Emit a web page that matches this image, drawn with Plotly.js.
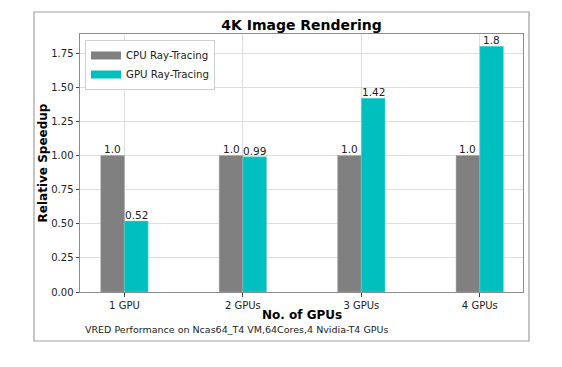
<!DOCTYPE html>
<html>
<head>
<meta charset="utf-8">
<script src="https://cdn.plot.ly/plotly-3.0.1.min.js"></script>
<style>html,body{margin:0;padding:0;background:#fff;}#chart{width:562px;height:367px;}</style>
</head>
<body>
<div id="chart"></div>
<script>
const categories = ["1 GPU", "2 GPUs", "3 GPUs", "4 GPUs"];
const cpuSpeedup = [1.0, 1.0, 1.0, 1.0];
const gpuSpeedup = [0.52, 0.99, 1.42, 1.8];
const yTickVals = [0, 0.25, 0.5, 0.75, 1.0, 1.25, 1.5, 1.75];

const fmt = v => Number.isInteger(v) ? v.toFixed(1) : String(v);
const FONT = "DejaVu Sans, sans-serif";
const CPU_COLOR = "#808080", GPU_COLOR = "#00bfbf";
const BAR_W = 0.2;

const cpu = {
  type: "bar", name: "CPU Ray-Tracing", x: categories, y: cpuSpeedup,
  width: BAR_W, offset: -BAR_W, showlegend: false,
  marker: {color: CPU_COLOR, line: {color: "#a8a8a8", width: 0.5}}
};
const gpu = {
  type: "bar", name: "GPU Ray-Tracing", x: categories, y: gpuSpeedup,
  width: BAR_W, offset: 0, showlegend: false,
  marker: {color: GPU_COLOR, line: {color: "#66d9d9", width: 0.5}}
};
// legend-only entries (wide rectangular swatches like the reference)
const cpuLeg = {type: "scatter", mode: "lines", name: "CPU Ray-Tracing", x: [null], y: [null],
  line: {color: CPU_COLOR, width: 8}, hoverinfo: "skip"};
const gpuLeg = {type: "scatter", mode: "lines", name: "GPU Ray-Tracing", x: [null], y: [null],
  line: {color: GPU_COLOR, width: 8}, hoverinfo: "skip"};

// plot area in pixels: left 80, right 523, top 34, bottom 292
const L = 80, R = 523, T = 34, B = 292;
const W = R - L, H = B - T;
const px = x => (x - L) / W;
const py = y => (B - y) / H;

const valueLabels = [];
categories.forEach((c, i) => {
  valueLabels.push({x: i - BAR_W / 2, y: cpuSpeedup[i], text: fmt(cpuSpeedup[i])});
  valueLabels.push({x: i + BAR_W / 2, y: gpuSpeedup[i], text: fmt(gpuSpeedup[i])});
});

const annotations = valueLabels.map(v => ({
  xref: "x", yref: "y", x: v.x, y: v.y, text: v.text, showarrow: false,
  xanchor: "center", yanchor: "bottom", borderpad: 0, borderwidth: 0,
  font: {family: FONT, size: 10.5, color: "#222"}
}));
annotations.push({
  xref: "paper", yref: "paper", x: px(301.5), y: py(315), xanchor: "center", yanchor: "middle",
  text: "<b>No. of GPUs</b>", showarrow: false,
  font: {family: FONT, size: 12, color: "#000"}
});
annotations.push({
  xref: "paper", yref: "paper", x: px(83), y: py(329), xanchor: "left", yanchor: "middle",
  text: "VRED Performance on Ncas64_T4 VM,64Cores,4 Nvidia-T4 GPUs", showarrow: false,
  font: {family: FONT, size: 9.5, color: "#222"}
});

const layout = {
  width: 562, height: 367,
  margin: {l: L, r: 562 - R, t: T, b: 367 - B, pad: 0},
  paper_bgcolor: "#ffffff", plot_bgcolor: "#ffffff",
  font: {family: FONT, size: 10, color: "#222"},
  barmode: "overlay",
  showlegend: true,
  title: {text: "<b>4K Image Rendering</b>", font: {family: FONT, size: 14, color: "#000"},
          x: px(301.5), xref: "paper", xanchor: "center", y: 1 - 25/367, yanchor: "middle"},
  xaxis: {
    type: "category", range: [-0.375, 3.365],
    showgrid: true, gridcolor: "#dedede", gridwidth: 1,
    showline: true, linecolor: "#8c8c8c", linewidth: 1, mirror: true,
    ticks: "outside", ticklen: 3.5, tickcolor: "#444", tickwidth: 1,
    tickfont: {family: FONT, size: 10, color: "#222"},
    zeroline: false
  },
  yaxis: {
    range: [0, 1.89], tickvals: yTickVals, tickformat: ".2f",
    showgrid: true, gridcolor: "#dedede", gridwidth: 1,
    showline: true, linecolor: "#8c8c8c", linewidth: 1, mirror: true,
    ticks: "outside", ticklen: 3.5, tickcolor: "#444", tickwidth: 1,
    tickfont: {family: FONT, size: 10, color: "#222"},
    title: {text: "<b>Relative Speedup</b>", font: {family: FONT, size: 12, color: "#000"}, standoff: 1},
    zeroline: false
  },
  legend: {
    x: px(85), y: py(40), xanchor: "left", yanchor: "top",
    bgcolor: "#ffffff", bordercolor: "#d0d0d0", borderwidth: 1,
    font: {family: FONT, size: 10.2, color: "#222"},
    tracegroupgap: 0, itemwidth: 30
  },
  annotations: annotations,
  shapes: [{
    type: "rect", xref: "paper", yref: "paper",
    x0: px(34), x1: px(529), y0: py(341), y1: py(12),
    line: {color: "#a0a0a0", width: 1.2}, fillcolor: "rgba(0,0,0,0)", layer: "below"
  }]
};

Plotly.newPlot("chart", [cpu, gpu, cpuLeg, gpuLeg], layout, {displayModeBar: false, staticPlot: true});
</script>
</body>
</html>
